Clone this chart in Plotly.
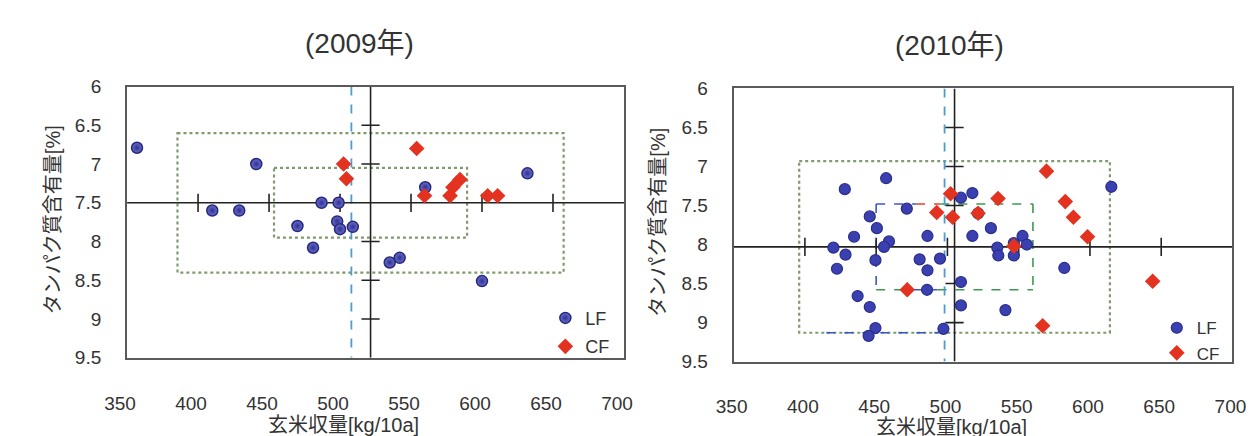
import plotly.graph_objects as go

# ---------------- data ----------------
# 2009
lf09_x = [357, 441, 410, 429, 487, 499, 470, 498, 500, 509, 481, 535, 542, 560, 632, 600]
lf09_y = [6.79, 7.0, 7.6, 7.6, 7.5, 7.5, 7.8, 7.74, 7.84, 7.81, 8.08, 8.27, 8.21, 7.3, 7.12, 8.51]
cf09_x = [502.5, 504.5, 554, 559.5, 577.5, 579.5, 584.5, 604, 611]
cf09_y = [7.0, 7.19, 6.8, 7.41, 7.41, 7.3, 7.2, 7.41, 7.41]

# 2010
lf10_x = [428, 457, 471.5, 445.5, 450.5, 434.5, 420, 428.5, 422.5, 449.5, 459, 455.5,
          486, 480.5, 494.8, 486, 485.7, 437, 445.5, 449.5, 444.7, 497.2, 509.5, 517.5,
          521.5, 517.5, 530.5, 535, 535.7, 546.6, 552.7, 555.7, 546.6, 509.5, 509.5,
          540.7, 582, 615]
lf10_y = [7.29, 7.15, 7.54, 7.64, 7.79, 7.9, 8.04, 8.13, 8.31, 8.2, 7.96, 8.03,
          7.89, 8.19, 8.18, 8.33, 8.58, 8.66, 8.8, 9.07, 9.17, 9.08, 7.4, 7.34,
          7.6, 7.89, 7.79, 8.04, 8.14, 8.14, 7.89, 8.0, 7.98, 8.48, 8.78,
          8.84, 8.3, 7.26]
cf10_x = [502.2, 503.6, 492.5, 521.5, 535.5, 569.5, 582.7, 588.4, 598.3, 546.6, 471.8, 566.8, 644]
cf10_y = [7.35, 7.65, 7.59, 7.6, 7.41, 7.06, 7.45, 7.65, 7.9, 8.02, 8.58, 9.04, 8.47]

# reference values: centre (mean), outer / inner spreads, second yield line
years = ["(2009年)", "(2010年)"]
centre_x = [521.5, 505.0]
centre_y = [7.5, 8.03]
outer_dx = [136.0, 109.0]
outer_dy = [0.9, 1.1]
inner_dx = [68.0, 55.0]
inner_dy = [0.45, 0.55]
blue_x = [508.0, 498.0]

x_ticks = [350, 400, 450, 500, 550, 600, 650, 700]
y_ticks = [6, 6.5, 7, 7.5, 8, 8.5, 9, 9.5]
y_ticktext = ["6", "6.5", "7", "7.5", "8", "8.5", "9", "9.5"]
cross_xticks = [[400, 450, 500, 550, 600, 650], [400, 450, 500, 550, 600, 650]]
cross_yticks = [[6.5, 7.0, 8.0, 8.5, 9.0], [6.5, 7.0, 7.5, 8.5, 9.0]]

x_title = "玄米収量[kg/10a]"
y_title = "タンパク質含有量[%]"

# ---------------- figure ----------------
FONT = "Liberation Sans, Arial, Noto Sans CJK JP, sans-serif"
W, H = 1254, 436
CF_FILL = "#e3321f"

fig = go.Figure()

axes = [("x", "y"), ("x2", "y2")]
legends = ["legend", "legend2"]

for i, (xa, ya) in enumerate(axes):
    xr = "x" if i == 0 else "x2"
    yr = "y" if i == 0 else "y2"
    cx, cy = centre_x[i], centre_y[i]
    # outer dotted rectangle
    fig.add_shape(type="rect", xref=xr, yref=yr,
                  x0=cx - outer_dx[i], x1=cx + outer_dx[i],
                  y0=cy - outer_dy[i], y1=cy + outer_dy[i],
                  line=dict(color="#7f9a6c", width=2.2, dash="dot"), layer="below")
    # inner rectangle
    if i == 0:
        fig.add_shape(type="rect", xref=xr, yref=yr,
                      x0=cx - inner_dx[i], x1=cx + inner_dx[i],
                      y0=cy - inner_dy[i], y1=cy + inner_dy[i],
                      line=dict(color="#7f9a6c", width=2.2, dash="dot"), layer="below")
    else:
        l, r = cx - inner_dx[i], cx + inner_dx[i]
        t, b = cy - inner_dy[i], cy + inner_dy[i]
        segs = [
            (l, t, 478, t, "#3a55c8"), (478, t, 495, t, "#e0452f"), (495, t, r, t, "#3a9a50"),
            (r, t, r, b, "#3a9a50"), (l, b, 470, b, "#3a9a50"), (476, b, 493, b, "#3a55c8"),
            (493, b, r, b, "#3a9a50"), (l, t, l, b, "#3a55c8"),
            (415, cy + outer_dy[i], 494, cy + outer_dy[i], "#3a55c8"),
        ]
        for x0, y0, x1, y1, c in segs:
            fig.add_shape(type="line", xref=xr, yref=yr, x0=x0, y0=y0, x1=x1, y1=y1,
                          line=dict(color=c, width=1.6, dash="dash"), layer="below")
    # light-blue dashed yield line
    fig.add_shape(type="line", xref=xr, yref=yr, x0=blue_x[i], x1=blue_x[i], y0=6, y1=9.5,
                  line=dict(color="#4d9bd0", width=1.8, dash="dash"), layer="below")
    # black cross lines
    fig.add_shape(type="line", xref=xr, yref=yr, x0=350, x1=700, y0=cy, y1=cy,
                  line=dict(color="#222222", width=1.6), layer="below")
    fig.add_shape(type="line", xref=xr, yref=yr, x0=cx, x1=cx, y0=6, y1=9.5,
                  line=dict(color="#222222", width=1.6), layer="below")
    # tick marks on the cross lines
    fig.add_trace(go.Scatter(x=cross_xticks[i], y=[cy] * len(cross_xticks[i]), mode="markers",
                             marker=dict(symbol="line-ns", size=13, line=dict(color="#222", width=1.6)),
                             xaxis=xa, yaxis=ya, showlegend=False, hoverinfo="skip"))
    fig.add_trace(go.Scatter(x=[cx] * len(cross_yticks[i]), y=cross_yticks[i], mode="markers",
                             marker=dict(symbol="line-ew", size=13, line=dict(color="#222", width=1.6)),
                             xaxis=xa, yaxis=ya, showlegend=False, hoverinfo="skip"))

data = [(lf09_x, lf09_y, cf09_x, cf09_y), (lf10_x, lf10_y, cf10_x, cf10_y)]
lf_styles = [
    dict(symbol="circle", size=11, color="#6c6fc6",
         gradient=dict(type="radial", color="#2e3196"),
         line=dict(color="#25287e", width=1.5)),
    dict(symbol="circle", size=11, color="#3b40b0",
         line=dict(color="#2a2d8a", width=1.2)),
]
for i, (xa, ya) in enumerate(axes):
    lx, ly, cxs, cys = data[i]
    fig.add_trace(go.Scatter(x=lx, y=ly, mode="markers", name="LF", legend=legends[i],
                             legendgroup="LF%d" % i, marker=lf_styles[i],
                             xaxis=xa, yaxis=ya))
    fig.add_trace(go.Scatter(x=cxs, y=cys, mode="markers", name="CF", legend=legends[i],
                             legendgroup="CF%d" % i,
                             marker=dict(symbol="diamond", size=12, color=CF_FILL,
                                         line=dict(width=0)),
                             xaxis=xa, yaxis=ya))

# domains (pixel based)
def px_x(p):
    return p / W

def px_y(p):
    return 1 - p / H

xdom = [[px_x(99), px_x(611)], [px_x(724), px_x(1238)]]
ydom = [[px_y(357), px_y(72)], [px_y(361), px_y(74)]]
label_shift = [-7, -2]

def xaxis_def(i):
    return dict(domain=xdom[i], anchor="y" if i == 0 else "y2",
                range=[350, 700], tickvals=x_ticks, showgrid=False, zeroline=False,
                showline=True, mirror=True, linecolor="#5a5a5a", linewidth=2,
                ticks="", ticklabelstandoff=27, ticklabelshift=label_shift[i],
                tickfont=dict(family=FONT, size=19, color="#333333"))

def yaxis_def(i):
    return dict(domain=ydom[i], anchor="x" if i == 0 else "x2",
                range=[9.5, 6], tickvals=y_ticks, ticktext=y_ticktext, showgrid=False,
                zeroline=False, showline=True, mirror=True, linecolor="#5a5a5a", linewidth=2,
                ticks="", ticklabelstandoff=20,
                tickfont=dict(family=FONT, size=19, color="#333333"))

fig.update_layout(
    width=W, height=H,
    margin=dict(l=0, r=0, t=0, b=0),
    paper_bgcolor="white", plot_bgcolor="white",
    font=dict(family=FONT, color="#333333"),
    xaxis=xaxis_def(0), yaxis=yaxis_def(0),
    xaxis2=xaxis_def(1), yaxis2=yaxis_def(1),
    legend=dict(x=px_x(530), y=px_y(296), xanchor="left", yanchor="top",
                bgcolor="rgba(0,0,0,0)", font=dict(size=18, family=FONT, color="#333"),
                tracegroupgap=2, itemwidth=30),
    legend2=dict(x=px_x(1160), y=px_y(307), xanchor="left", yanchor="top",
                 bgcolor="rgba(0,0,0,0)", font=dict(size=17, family=FONT, color="#333"),
                 tracegroupgap=0, itemwidth=30),
    showlegend=True,
)

ann = []
title_pos = [(338, 27), (946, 29)]
ytitle_pos = [(22, 212), (646, 214)]
xtitle_pos = [(322, 428), (948, 430)]
for i in range(2):
    ann.append(dict(text=years[i], x=px_x(title_pos[i][0]), y=px_y(title_pos[i][1]),
                    xref="paper", yref="paper", showarrow=False,
                    xanchor="center", yanchor="middle",
                    font=dict(size=28, family=FONT, color="#333")))
    ann.append(dict(text=y_title, x=px_x(ytitle_pos[i][0]), y=px_y(ytitle_pos[i][1]),
                    xref="paper", yref="paper", showarrow=False, textangle=-90,
                    xanchor="center", yanchor="middle",
                    font=dict(size=20, family=FONT, color="#333")))
    ann.append(dict(text=x_title, x=px_x(xtitle_pos[i][0]), y=px_y(xtitle_pos[i][1]),
                    xref="paper", yref="paper", showarrow=False,
                    xanchor="center", yanchor="middle",
                    font=dict(size=20, family=FONT, color="#333")))
fig.update_layout(annotations=ann)

fig.write_html("out.html")
